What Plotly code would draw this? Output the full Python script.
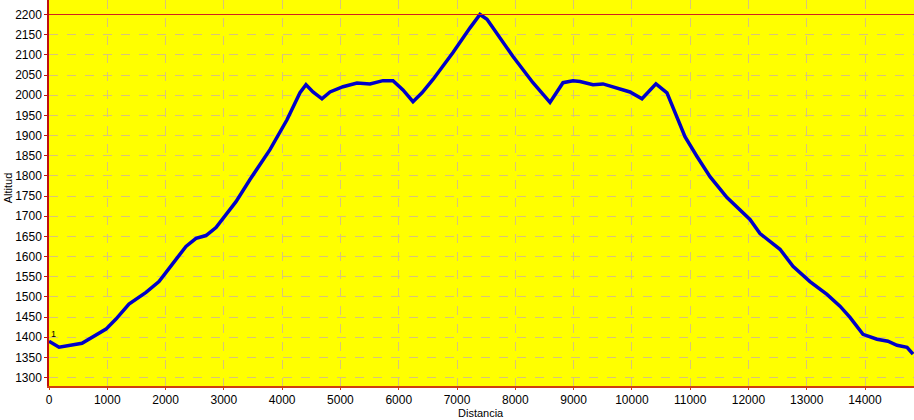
import plotly.graph_objects as go

distancia = [0, 172, 566, 738, 978, 1149, 1372, 1664, 1887, 2110, 2350, 2522, 2693, 2865,
             2968, 3208, 3448, 3791, 4083, 4306, 4409, 4529, 4683, 4821, 5044, 5284, 5507,
             5730, 5902, 6073, 6245, 6399, 6588, 6931, 7223, 7394, 7514, 7737, 7960, 8303,
             8595, 8818, 8990, 9110, 9333, 9504, 9744, 9967, 10173, 10413, 10602, 10774,
             10911, 11117, 11340, 11632, 11855, 12026, 12198, 12541, 12764, 13055, 13347,
             13570, 13742, 13965, 14205, 14393, 14548, 14720, 14823]
altitud = [1390, 1375, 1385, 1400, 1420, 1445, 1482, 1511, 1538, 1580, 1625, 1645, 1652, 1672,
           1692, 1736, 1791, 1865, 1939, 2006, 2026, 2008, 1991, 2008, 2021, 2030, 2028,
           2036, 2036, 2013, 1984, 2006, 2039, 2106, 2167, 2200, 2188, 2143, 2096, 2031,
           1982, 2031, 2036, 2034, 2026, 2028, 2018, 2008, 1991, 2028, 2006, 1945,
           1897, 1848, 1798, 1746, 1717, 1692, 1657, 1618, 1576, 1538, 1506,
           1477, 1449, 1407, 1395, 1390, 1380, 1375, 1358]
x_ticks = list(range(0, 14001, 1000))
y_ticks = list(range(1300, 2201, 50))

fig = go.Figure()
fig.add_trace(go.Scatter(x=distancia, y=altitud, mode="lines",
                         line=dict(color="#0000C8", width=3.5), hoverinfo="skip"))
fig.add_hline(y=max(altitud), line=dict(color="#D02020", width=1.2))

font = dict(family="Liberation Sans, Arial, sans-serif", size=12, color="#000000")
grid = "#D8C47A"
fig.update_layout(
    width=914, height=420,
    margin=dict(l=49, r=0, t=0, b=34, autoexpand=False),
    paper_bgcolor="white", plot_bgcolor="#FFFF00",
    showlegend=False, font=font,
    xaxis=dict(range=[0, 14840], tickvals=x_ticks, ticktext=[str(v) for v in x_ticks],
               showgrid=True, gridcolor=grid, griddash="dash", gridwidth=1,
               showline=True, linecolor="#D04010", linewidth=1.5, automargin=False,
               ticks="outside", ticklen=2, tickcolor="#D04010", zeroline=False),
    yaxis=dict(range=[1279, 2236], tickvals=y_ticks, ticktext=[str(v) for v in y_ticks],
               showgrid=True, gridcolor=grid, griddash="dash", gridwidth=1,
               showline=True, linecolor="#C01010", linewidth=1.5, automargin=False,
               ticks="outside", ticklen=3, tickcolor="#C01010", zeroline=False),
    annotations=[
        dict(text="Distancia", xref="paper", yref="paper", x=0.4995, y=-0.0700,
             xanchor="center", yanchor="middle", showarrow=False,
             font=dict(family="Liberation Sans, Arial, sans-serif", size=11)),
        dict(text="Altitud", xref="paper", yref="paper", x=-0.047, y=0.513,
             xanchor="center", yanchor="middle", showarrow=False, textangle=-90,
             font=dict(family="Liberation Sans, Arial, sans-serif", size=11)),
        dict(text="1", x=distancia[0], y=1408, xref="x", yref="y", showarrow=False,
             xanchor="left", yanchor="middle",
             font=dict(family="Liberation Sans, Arial, sans-serif", size=9)),
    ],
)
fig.write_html("out.html", config={"displayModeBar": False},
               post_script="document.body.style.margin='0';document.body.style.overflow='hidden';")
